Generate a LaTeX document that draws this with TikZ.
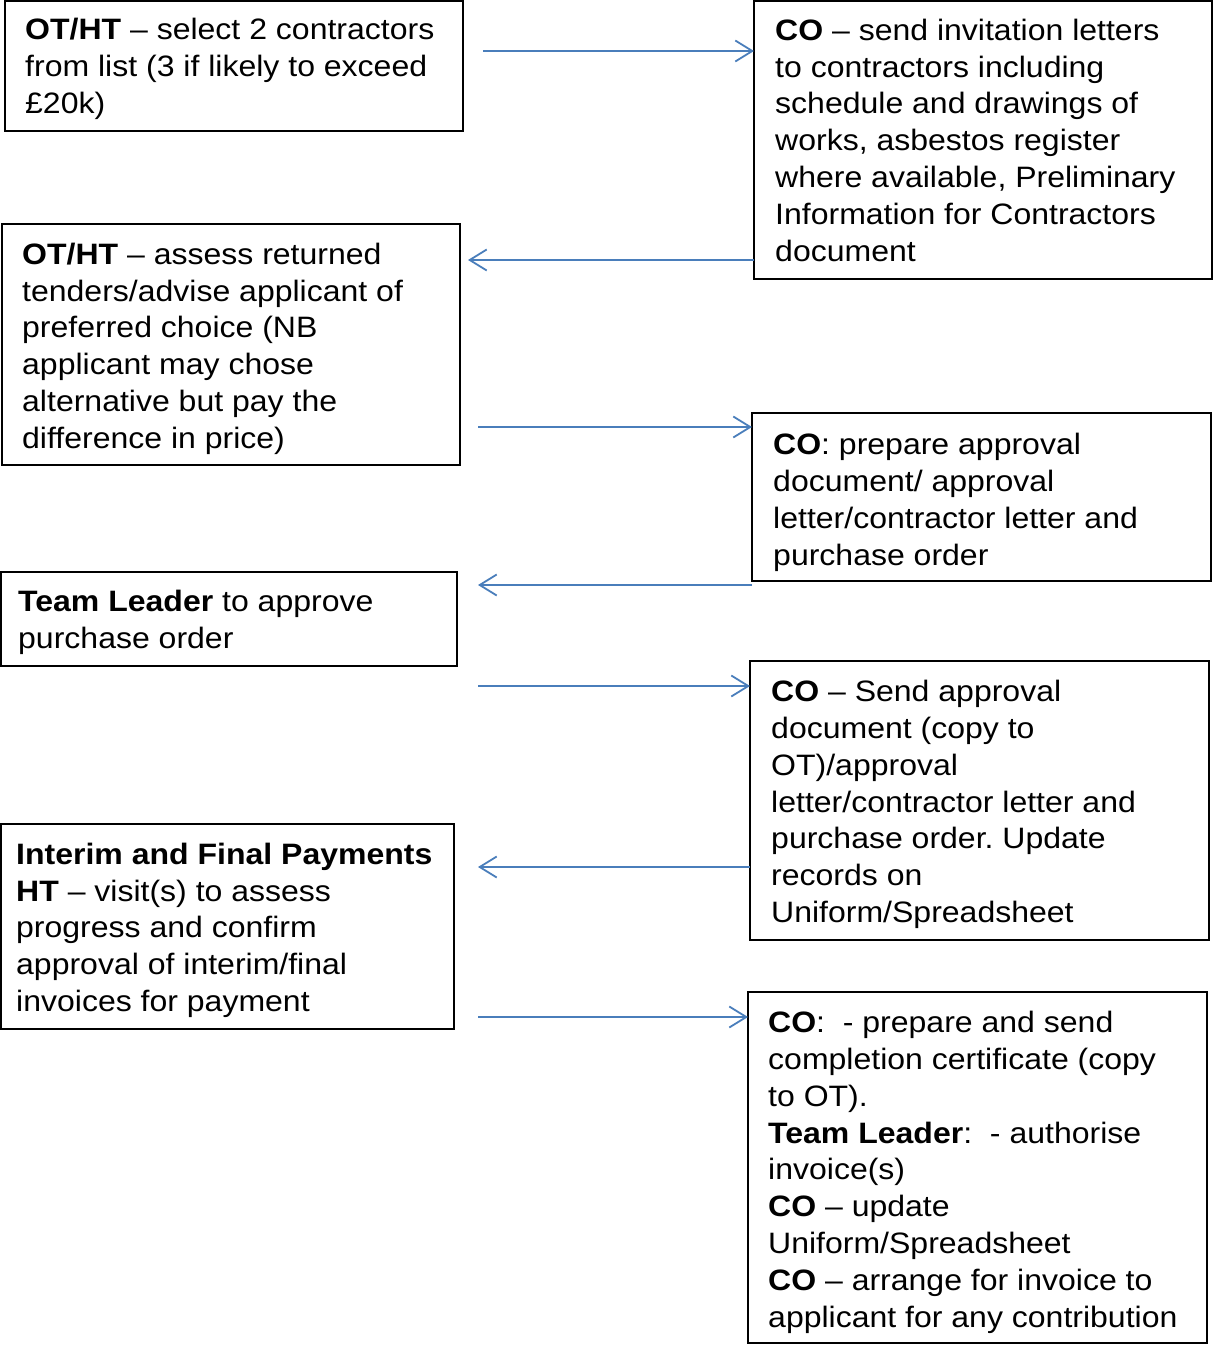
\documentclass[tikz,border=0pt]{standalone}
\usepackage{fontspec}
\setmainfont{Liberation Sans}[FakeStretch=1.085]
\usetikzlibrary{arrows.meta}
\definecolor{arrblue}{HTML}{4A7EBB}
\begin{document}
\begin{tikzpicture}[x=1pt,y=-1pt,
  box/.style={draw=black, line width=1.8pt, anchor=north west, inner sep=0pt, outer sep=0pt},
  txt/.style={anchor=north west, inner sep=0pt, align=left, yshift=24.26pt,
    font=\fontsize{29.5}{36.8}\selectfont\frenchspacing},
  arr/.style={draw=arrblue, line width=1.8pt, -{Straight Barb[length=17pt,width=21pt,line width=1.8pt]}}]
\useasboundingbox (0,0) rectangle (1213,1346);
% boxes
\node[box, minimum width=458, minimum height=130] (l1) at (5,1) {};
\node[box, minimum width=458, minimum height=278] (r1) at (754,1) {};
\node[box, minimum width=458, minimum height=241] (l2) at (2,224) {};
\node[box, minimum width=459, minimum height=168] (r2) at (752,413) {};
\node[box, minimum width=456, minimum height=94] (l3) at (0.9,572) {};
\node[box, minimum width=459, minimum height=279] (r3) at (750,661) {};
\node[box, minimum width=453, minimum height=205] (l4) at (0.9,824) {};
\node[box, minimum width=459, minimum height=351] (r4) at (748,992) {};
% texts
\node[txt] (l1t) at (25,38) {\strut\textbf{OT/HT} – select 2 contractors\\from list (3 if likely to exceed\\£20k)};
\node[txt] (r1t) at (775,38.5) {\strut\textbf{CO} – send invitation letters\\to contractors including\\schedule and drawings of\\works, asbestos register\\where available, Preliminary\\Information for Contractors\\document};
\node[txt] (l2t) at (22,262.5) {\strut\textbf{OT/HT} – assess returned\\tenders/advise applicant of\\preferred choice (NB\\applicant may chose\\alternative but pay the\\difference in price)};
\node[txt] (r2t) at (773,453) {\strut\textbf{CO}: prepare approval\\document/ approval\\letter/contractor letter and\\purchase order};
\node[txt] (l3t) at (18,610) {\strut\textbf{Team Leader} to approve\\purchase order};
\node[txt] (r3t) at (771,700) {\strut\textbf{CO} – Send approval\\document (copy to\\OT)/approval\\letter/contractor letter and\\purchase order. Update\\records on\\Uniform/Spreadsheet};
\node[txt] (l4t) at (16,862.5) {\strut\textbf{Interim and Final Payments}\\\textbf{HT} – visit(s) to assess\\progress and confirm\\approval of interim/final\\invoices for payment};
\node[txt] (r4t) at (768,1031) {\strut\textbf{CO}:~ - prepare and send\\completion certificate (copy\\to OT).\\\textbf{Team Leader}:~ - authorise\\invoice(s)\\\textbf{CO} – update\\Uniform/Spreadsheet\\\textbf{CO} – arrange for invoice to\\applicant for any contribution};
% connector free ends
\coordinate (s1) at (483,51);
\coordinate (e2) at (468,260);
\coordinate (s3) at (478,427);
\coordinate (e4) at (478,585);
\coordinate (s5) at (478,686);
\coordinate (e6) at (478,867);
\coordinate (s7) at (478,1017);
% connectors
\draw[arr] (s1) -- (s1 -| r1.west);
\draw[arr] (e2 -| r1.west) -- (e2);
\draw[arr] (s3) -- (s3 -| r2.west);
\draw[arr] (e4 -| r2.west) -- (e4);
\draw[arr] (s5) -- (s5 -| r3.west);
\draw[arr] (e6 -| r3.west) -- (e6);
\draw[arr] (s7) -- (s7 -| r4.west);
\end{tikzpicture}
\end{document}
